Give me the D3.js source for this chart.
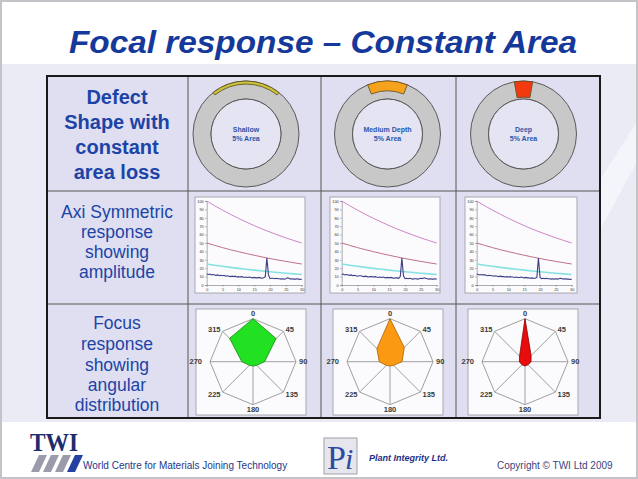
<!DOCTYPE html>
<html><head><meta charset="utf-8">
<script src="https://cdn.jsdelivr.net/npm/d3@7"></script>
<style>body{margin:0;background:#fff}svg{display:block;font-family:"Liberation Sans",Arial,sans-serif}</style>
</head><body>
<svg id="c" width="638" height="479"></svg>
<script>
// ---------- data ----------
const title = "Focal response \u2013 Constant Area";
const rowLabels = [
  ["Defect","Shape with","constant","area loss"],
  ["Axi Symmetric","response","showing","amplitude"],
  ["Focus","response","showing","angular","distribution"]
];
const defectNames = ["Shallow","Medium Depth","Deep"];
const defectAreaText = "5% Area";
const defectSpanDeg = [77, 44, 20];          // angular extent of the wall loss
const defectDepthFrac = [0.17, 0.55, 0.9];   // fraction of wall thickness
const defectColors = ["#c9c23a","#f7a21c","#f23a10"];

const distX = [0,2.5,5,7.5,10,12.5,15,17.5,20,22.5,25,27.5,30];
const dac100 = [100,94.4,89.1,84.1,79.4,75,70.7,66.7,63,59.5,56.1,53,50];
const dac50  = [50,47.2,44.5,42,39.7,37.5,35.4,33.4,31.5,29.7,28.1,26.5,25];
const dac25  = [25,23.6,22.3,21,19.8,18.8,17.7,16.7,15.7,14.9,14,13.2,12.5];
const noiseX = [0,0.5,1,1.5,2,2.5,3,3.5,4,4.5,5,5.5,6,6.5,7,7.5,8,8.5,9,9.5,10,10.5,11,11.5,12,12.5,13,13.5,14,14.5,15,15.5,16,16.5,17,17.5,18,18.5,19,19.5,20,20.5,21,21.5,22,22.5,23,23.5,24,24.5,25,25.5,26,26.5,27,27.5,28,28.5,29,29.5,30];
const shallowSignal = [13,12.5,13,12,12.5,12,11.5,12,11,11.5,11,11.5,10.5,11,10.5,10,10.5,10,10.5,9.5,10,9.5,10,9.5,9,9.5,9,9.5,9,8.5,9,8.5,8.5,9,8.5,8,8.5,10,32,12,7.5,8,8,7.5,8,7.5,7.5,7,7.5,7,7.5,8.5,8,7,7.5,7,7,7.5,7,6.5,7];
const mediumSignal  = [12.5,13,12,12.5,12,11.5,12,11,11.5,11,10.5,11,11,10.5,10,10.5,10,9.5,10,10,9.5,10,9.5,9,9.5,9,9.5,9,8.5,9,8.5,9,8.5,8,8.5,8.5,8,10,32,11,7.5,8,7.5,8,7.5,7,7.5,7.5,7,7.5,8,7.5,8.5,8,7.5,7,7.5,7,7,7.5,7];
const deepSignal    = [13,12.5,12,12.5,12,12,11.5,11,11.5,11,11,10.5,11,10.5,10,10.5,10,10,9.5,10,9.5,10,9.5,9.5,9,9.5,9,9,9.5,9,8.5,9,8.5,8.5,8,8.5,8,8,9,32,9,7.5,8,7.5,8,7.5,7.5,7,7.5,7,7.5,7,7.5,8,7.5,7,7.5,7,7,6.5,7];
const signals = [shallowSignal, mediumSignal, deepSignal];
const yTicks = [0,10,20,30,40,50,60,70,80,90,100];
const xTicks = [0,5,10,15,20,25,30];

const angles = [0,45,90,135,180,225,270,315];
const shallowFocus = [1.0,0.76,0.27,0.12,0.1,0.12,0.26,0.77];
const mediumFocus  = [1.0,0.47,0.28,0.12,0.1,0.12,0.25,0.43];
const deepFocus    = [1.0,0.2,0.14,0.1,0.1,0.1,0.13,0.18];
const focusData = [shallowFocus, mediumFocus, deepFocus];
const focusColors = [["#22e022","#168816"],["#fb9a12","#a85e00"],["#e80c0c","#8a0000"]];

// ---------- layout ----------
const svg = d3.select("#c");
const W = 638, H = 479;
const tbl = {x0:47, x1:600, y0:76, y1:418};
const blue = "#1c44a6";

// background
svg.append("rect").attr("width",W).attr("height",H).attr("fill","#ffffff");
svg.append("rect").attr("x",0).attr("y",64).attr("width",W).attr("height",358).attr("fill","#ebebf6");
svg.append("path").attr("d","M600,180 L638,120 L638,160 L600,230 Z").attr("fill","#f4f4fb");
svg.append("rect").attr("x",1).attr("y",1).attr("width",W-2).attr("height",H-2).attr("fill","none").attr("stroke","#c4c4c8").attr("stroke-width",2);

// title
svg.append("text").attr("x",323).attr("y",53).attr("text-anchor","middle")
  .attr("font-size",31).attr("font-style","italic").attr("font-weight","bold")
  .attr("fill","#15399a").attr("textLength",508).attr("lengthAdjust","spacingAndGlyphs")
  .text(title);

// table
svg.append("rect").attr("x",tbl.x0).attr("y",tbl.y0).attr("width",tbl.x1-tbl.x0).attr("height",tbl.y1-tbl.y0)
  .attr("fill","#dfdff1");
[188,321,456].forEach(x=>svg.append("line").attr("x1",x).attr("x2",x).attr("y1",tbl.y0).attr("y2",tbl.y1).attr("stroke","#555").attr("stroke-width",1));
[191,304].forEach(y=>svg.append("line").attr("x1",tbl.x0).attr("x2",tbl.x1).attr("y1",y).attr("y2",y).attr("stroke","#555").attr("stroke-width",1));
svg.append("rect").attr("x",tbl.x0).attr("y",tbl.y0).attr("width",tbl.x1-tbl.x0).attr("height",tbl.y1-tbl.y0)
  .attr("fill","none").attr("stroke","#1a1a1a").attr("stroke-width",2);

// row labels
const labelY = [[96.7,121.7,146.7,171.7],[211.7,231.7,251.7,271.7],[323,344,364.5,385,405]];
rowLabels.forEach((lines,ri)=>{
  lines.forEach((t,li)=>{
    svg.append("text").attr("x",117).attr("y",labelY[ri][li]).attr("dy","0.36em")
      .attr("text-anchor","middle").attr("font-size",ri===0?20:17.5)
      .attr("font-weight",ri===0?"bold":"normal").attr("fill",blue).text(t);
  });
});

// row 1 : rings
const ringCx = [246,387.5,523.5], ringCy = 134, rOut = 53, rIn = 35;
defectNames.forEach((name,i)=>{
  const g = svg.append("g").attr("transform",`translate(${ringCx[i]},${ringCy})`);
  g.append("path").attr("d",d3.arc()({innerRadius:rIn,outerRadius:rOut,startAngle:0,endAngle:2*Math.PI}))
    .attr("fill","#c8c8c8").attr("stroke","#5a5a5a").attr("stroke-width",1);
  g.append("circle").attr("r",rIn).attr("fill","#e4e4f3").attr("stroke","#5a5a5a").attr("stroke-width",1);
  const half = defectSpanDeg[i]/2*Math.PI/180;
  const inner = rOut - defectDepthFrac[i]*(rOut-rIn);
  g.append("path").attr("d",d3.arc()({innerRadius:inner,outerRadius:rOut,startAngle:-half,endAngle:half}))
    .attr("fill",defectColors[i]).attr("stroke","#5a4a20").attr("stroke-width",0.8);
  g.append("text").attr("y",-2.5).attr("text-anchor","middle").attr("font-size",7).attr("font-weight","bold").attr("fill","#2a56a8").text(name);
  g.append("text").attr("y",6.5).attr("text-anchor","middle").attr("font-size",7).attr("font-weight","bold").attr("fill","#2a56a8").text(defectAreaText);
});

// row 2 : line charts
const chartBoxX = [195,330,465];
signals.forEach((sig,i)=>{
  const bx = chartBoxX[i], by = 197, bw = (i===2?112:110), bh = 96;
  svg.append("rect").attr("x",bx).attr("y",by).attr("width",bw).attr("height",bh).attr("fill","#fbfbfd").attr("stroke","#a8a8b0").attr("stroke-width",1);
  const x = d3.scaleLinear().domain([0,30]).range([bx+11.7,bx+106.7]);
  const y = d3.scaleLinear().domain([0,100]).range([285,201]);
  const g = svg.append("g");
  const ax = g.append("g").attr("transform",`translate(${x(0)},0)`).call(d3.axisLeft(y).tickValues(yTicks).tickSize(1.5).tickPadding(1.5));
  const bx2 = g.append("g").attr("transform",`translate(0,${y(0)})`).call(d3.axisBottom(x).tickValues(xTicks).tickSize(1.5).tickPadding(1.5));
  [ax,bx2].forEach(a=>{a.selectAll("text").attr("font-size",3.8).attr("fill","#333");a.selectAll("line,path").attr("stroke","#777").attr("stroke-width",0.6);});
  const line = d3.line().x(d=>x(d[0])).y(d=>y(d[1]));
  g.append("path").attr("d",line(distX.map((v,k)=>[v,dac25[k]]))).attr("fill","none").attr("stroke","#86e2e2").attr("stroke-width",1.6);
  g.append("path").attr("d",line(distX.map((v,k)=>[v,dac100[k]]))).attr("fill","none").attr("stroke","#cf85c6").attr("stroke-width",1);
  g.append("path").attr("d",line(distX.map((v,k)=>[v,dac50[k]]))).attr("fill","none").attr("stroke","#bf7088").attr("stroke-width",1);
  g.append("path").attr("d",line(noiseX.map((v,k)=>[v,sig[k]]))).attr("fill","none").attr("stroke","#3c3c86").attr("stroke-width",1.1);
});

// row 3 : radar charts
const radarBoxX = [196,333,468];
focusData.forEach((vals,i)=>{
  const bx = radarBoxX[i], by = 309, bw = 110, bh = 106;
  svg.append("rect").attr("x",bx).attr("y",by).attr("width",bw).attr("height",bh).attr("fill","#fbfbfd").attr("stroke","#a8a8b0").attr("stroke-width",1);
  const cx = bx+57, cy = 361.7, R = 43;
  const r = d3.scaleLinear().domain([0,1]).range([0,R]);
  const g = svg.append("g").attr("transform",`translate(${cx},${cy})`);
  const rad = a=>a*Math.PI/180;
  const radial = d3.lineRadial().angle(d=>rad(d[0])).radius(d=>r(d[1])).curve(d3.curveLinearClosed);
  g.append("path").attr("d",radial(angles.map(a=>[a,1]))).attr("fill","none").attr("stroke","#a0a0a0").attr("stroke-width",1);
  angles.forEach(a=>{
    g.append("line").attr("x1",0).attr("y1",0).attr("x2",r(1)*Math.sin(rad(a))).attr("y2",-r(1)*Math.cos(rad(a))).attr("stroke","#a0a0a0").attr("stroke-width",1);
  });
  g.append("path").attr("d",radial(angles.map((a,k)=>[a,vals[k]]))).attr("fill",focusColors[i][0]).attr("stroke",focusColors[i][1]).attr("stroke-width",0.8).attr("stroke-linejoin","round");
  angles.forEach(a=>{
    const s = Math.sin(rad(a)), c = Math.cos(rad(a));
    const off = R + 3;
    let anchor = "middle";
    if (s > 0.3) anchor = "start"; else if (s < -0.3) anchor = "end";
    let dx = s*off, dy = -c*off;
    if (a===0) dy = -R-5; if (a===180) dy = R+5;
    if (a===270) dx = -R-8;
    g.append("text").attr("x",dx).attr("y",dy).attr("dy","0.35em").attr("text-anchor",anchor)
      .attr("font-size",7.5).attr("font-weight","bold").attr("fill","#3a3a3a").text(a);
  });
});

// ---------- footer ----------
svg.append("text").attr("x",30).attr("y",451).attr("font-family","Liberation Serif, serif").attr("font-weight","bold").attr("font-size",25).attr("fill","#1e2b6c").attr("textLength",48).attr("lengthAdjust","spacingAndGlyphs").text("TWI");
[0,1,2,3].forEach(k=>{
  const x0 = 31 + k*12;
  svg.append("path").attr("d",`M${x0},472 L${x0+8},455 L${x0+16},455 L${x0+8},472 Z`).attr("fill",k===3?"#2341a0":"#9b9cab");
});
svg.append("text").attr("x",83).attr("y",469).attr("font-size",10).attr("fill","#26358c").text("World Centre for Materials Joining Technology");
svg.append("rect").attr("x",324).attr("y",438).attr("width",33).attr("height",36).attr("fill","#e6e7ee").attr("stroke","#a0a0a8").attr("stroke-width",1);
svg.append("text").attr("x",327).attr("y",469).attr("font-family","Liberation Serif, serif").attr("font-size",34).attr("fill","#2d4aa0").text("P");
svg.append("text").attr("x",345).attr("y",469).attr("font-family","Liberation Serif, serif").attr("font-style","italic").attr("font-size",30).attr("fill","#2d4aa0").text("i");
svg.append("text").attr("x",369).attr("y",461).attr("font-size",9).attr("font-style","italic").attr("font-weight","bold").attr("fill","#1e2f86").text("Plant Integrity Ltd.");
svg.append("text").attr("x",497).attr("y",469).attr("font-size",10).attr("fill","#3a4580").text("Copyright \u00a9 TWI Ltd 2009");
</script>
</body></html>
